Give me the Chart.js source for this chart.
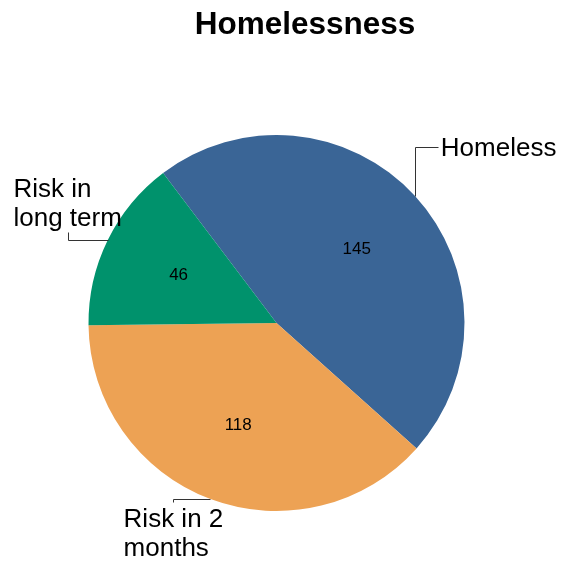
<!DOCTYPE html>
<html>
<head>
<meta charset="utf-8">
<script src="https://cdn.jsdelivr.net/npm/chart.js@4/dist/chart.umd.min.js"></script>
<style>
  html, body { margin: 0; padding: 0; background: #ffffff; }
  #wrap { width: 571px; height: 564px; position: relative; }
</style>
</head>
<body>
<div id="wrap"><canvas id="c" width="571" height="564"></canvas></div>
<script>
// ---- data ----
const chartTitle = "Homelessness";
const categories = ["Homeless", "Risk in 2 months", "Risk in long term"];
const categoryLabelLines = [["Homeless"], ["Risk in 2", "months"], ["Risk in", "long term"]];
const values = [145, 118, 46];
const sliceColors = ["#3A6596", "#EDA254", "#00926C"];

// ---- label layout (leader elbows, relative to the slice edge point) ----
const leaderLayout = [
  { first: "v", d1: -49, d2: 23, textAlign: "left-middle", gap: 3 },
  { first: "h", d1: -37, d2: 3, textAlign: "top-center", gap: 0 },
  { first: "h", d1: -40, d2: -8, textAlign: "bottom-center", gap: 0 }
];

const FONT = "'Liberation Sans', Arial, Helvetica, sans-serif";

const labelPlugin = {
  id: "pieLabels",
  afterDatasetsDraw(chart) {
    const ctx = chart.ctx;
    const meta = chart.getDatasetMeta(0);
    ctx.save();
    // title
    ctx.fillStyle = "#000";
    ctx.font = "bold 31.5px " + FONT;
    ctx.textAlign = "center";
    ctx.textBaseline = "alphabetic";
    ctx.fillText(chartTitle, 305, 33.5);

    meta.data.forEach((arc, i) => {
      const p = arc.getProps(["x", "y", "startAngle", "endAngle", "outerRadius"], true);
      const mid = (p.startAngle + p.endAngle) / 2;
      // value label
      const rv = p.outerRadius * 0.58;
      ctx.font = "17px " + FONT;
      ctx.fillStyle = "#000";
      ctx.textAlign = "center";
      ctx.textBaseline = "middle";
      ctx.fillText(String(values[i]), p.x + Math.cos(mid) * rv, p.y + Math.sin(mid) * rv);

      // leader line
      const ex = p.x + Math.cos(mid) * p.outerRadius;
      const ey = p.y + Math.sin(mid) * p.outerRadius;
      const L = leaderLayout[i];
      let bx, by, cx, cy;
      if (L.first === "v") { bx = ex; by = ey + L.d1; cx = bx + L.d2; cy = by; }
      else { bx = ex + L.d1; by = ey; cx = bx; cy = by + L.d2; }
      ctx.strokeStyle = "#333";
      ctx.lineWidth = 1;
      ctx.beginPath();
      ctx.moveTo(Math.round(ex) + 0.5, Math.round(ey) + 0.5);
      ctx.lineTo(Math.round(bx) + 0.5, Math.round(by) + 0.5);
      ctx.lineTo(Math.round(cx) + 0.5, Math.round(cy) + 0.5);
      ctx.stroke();

      // category label
      const lines = categoryLabelLines[i];
      ctx.font = "26px " + FONT;
      ctx.fillStyle = "#000";
      ctx.textAlign = "left";
      ctx.textBaseline = "alphabetic";
      const lh = 28.5;
      const maxW = Math.max(...lines.map(s => ctx.measureText(s).width));
      if (L.textAlign === "left-middle") {
        const x0 = cx + L.gap;
        ctx.fillText(lines[0], x0, cy + 9);
      } else if (L.textAlign === "top-center") {
        const x0 = cx - maxW / 2;
        lines.forEach((s, k) => ctx.fillText(s, x0, cy + 25 + k * lh));
      } else {
        const x0 = cx - maxW / 2;
        const n = lines.length;
        lines.forEach((s, k) => ctx.fillText(s, x0, cy - 6 - (n - 1 - k) * 29.5));
      }
    });
    ctx.restore();
  }
};

new Chart(document.getElementById("c"), {
  type: "pie",
  data: {
    labels: categories,
    datasets: [{
      data: values,
      backgroundColor: sliceColors,
      borderWidth: 0,
      hoverOffset: 0
    }]
  },
  options: {
    responsive: false,
    animation: false,
    rotation: -37.1,
    layout: { padding: { left: 88.5, right: 106.5, top: 135, bottom: 53 } },
    plugins: {
      legend: { display: false },
      title: { display: false },
      tooltip: { enabled: false }
    }
  },
  plugins: [labelPlugin]
});
</script>
</body>
</html>
